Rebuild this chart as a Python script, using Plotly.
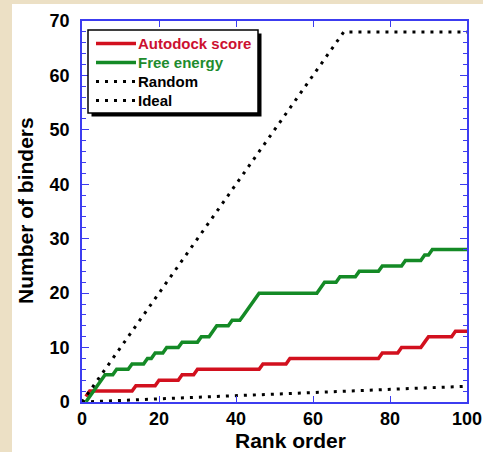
import plotly.graph_objects as go

# ---- data ----
rank = list(range(1, 101))
autodock_score = (
    [1] + [2] * 12 + [3] * 6 + [4] * 6 + [5] * 4 + [6] * 17 + [7] * 7
    + [8] * 24 + [9] * 5 + [10] * 6 + [11] + [12] * 7 + [13] * 4
)
free_energy = (
    [0, 1, 2, 3, 4, 5, 5, 5, 6, 6, 6, 6, 7, 7, 7, 7, 8, 8, 9, 9,
     9, 10, 10, 10, 10, 11, 11, 11, 11, 11, 12, 12, 12, 13, 14, 14, 14, 14, 15, 15,
     15, 16, 17, 18, 19] + [20] * 16 + [21] + [22] * 4 + [23] * 5 + [24] * 6
    + [25] * 6 + [26] * 5 + [27] * 2 + [28] * 10
)
random_x = [0, 100]
random_y = [0, 2.9]
ideal_x = [0, 68, 100]
ideal_y = [0, 68, 68]

x_ticks = [0, 20, 40, 60, 80, 100]
y_ticks = [0, 10, 20, 30, 40, 50, 60, 70]

series_names = ["Autodock score", "Free energy", "Random", "Ideal"]
line_colors = ["#d2101e", "#148a26", "black", "black"]
text_colors = ["#cc1030", "#1e8c2e", "black", "black"]

AXIS_BLUE = "#3c3cf0"
FONT = "Liberation Sans, Arial, Helvetica, sans-serif"
DOT = "3px,6px"

W, H = 483, 452
ML, MR, MT, MB = 82, 16, 21, 50
PW, PH = W - ML - MR, H - MT - MB


def px(X):
    return (X - ML) / PW


def py(Y):
    return (H - MB - Y) / PH


fig = go.Figure()
fig.add_trace(go.Scatter(x=rank, y=autodock_score, mode="lines", name=series_names[0],
                         line=dict(color=line_colors[0], width=3.5)))
fig.add_trace(go.Scatter(x=rank, y=free_energy, mode="lines", name=series_names[1],
                         line=dict(color=line_colors[1], width=3.5)))
fig.add_trace(go.Scatter(x=random_x, y=random_y, mode="lines", name=series_names[2],
                         line=dict(color=line_colors[2], width=3, dash=DOT)))
fig.add_trace(go.Scatter(x=ideal_x, y=ideal_y, mode="lines", name=series_names[3],
                         line=dict(color=line_colors[3], width=3, dash=DOT)))

axis_common = dict(
    showgrid=False, zeroline=False, showline=True, linecolor=AXIS_BLUE,
    linewidth=1.5, mirror="ticks", ticks="inside", tickcolor=AXIS_BLUE,
    tickwidth=1.2, automargin=False,
    tickfont=dict(family=FONT, size=18, color="black", weight="bold"),
)

fig.update_xaxes(range=[0, 100], tickvals=x_ticks, ticklen=6, **axis_common)
fig.update_yaxes(range=[0, 70], tickvals=y_ticks, ticklen=7,
                 minor=dict(dtick=2, ticks="inside", ticklen=4,
                            tickcolor=AXIS_BLUE, tickwidth=1.2),
                 ticklabelstandoff=7, **axis_common)

# ---- legend box (drawn as shapes + text) ----
shapes = [
    dict(type="rect", xref="paper", yref="paper", layer="below",
         x0=px(12), x1=px(W + 20), y0=py(H + 20), y1=py(4),
         fillcolor="white", line=dict(width=0)),
    dict(type="rect", xref="paper", yref="paper", layer="above",
         x0=px(91.5), x1=px(261.5), y0=py(116.5), y1=py(33.5),
         fillcolor="black", line=dict(width=0)),
    dict(type="rect", xref="paper", yref="paper", layer="above",
         x0=px(88), x1=px(258), y0=py(113), y1=py(30),
         fillcolor="white", line=dict(color="black", width=1.5)),
]
annotations = []
row_y = [43.5, 62.5, 81.5, 100.5]
for i, name in enumerate(series_names):
    solid = i < 2
    shapes.append(dict(
        type="line", xref="paper", yref="paper", layer="above",
        x0=px(96), x1=px(136), y0=py(row_y[i]), y1=py(row_y[i]),
        line=dict(color=line_colors[i], width=3.5 if solid else 3,
                  dash="solid" if solid else DOT)))
    annotations.append(dict(
        text=name, xref="paper", yref="paper", x=px(136), y=py(row_y[i]),
        xanchor="left", yanchor="middle", showarrow=False,
        font=dict(family=FONT, size=15, color=text_colors[i], weight="bold")))

annotations += [
    dict(text="Rank order", xref="paper", yref="paper", x=px(290), y=py(440),
         xanchor="center", yanchor="middle", showarrow=False,
         font=dict(family=FONT, size=21, color="black", weight="bold")),
    dict(text="Number of binders", xref="paper", yref="paper", x=px(25),
         y=py(211), xanchor="center", yanchor="middle", textangle=-90,
         showarrow=False,
         font=dict(family=FONT, size=21, color="black", weight="bold")),
]

fig.update_layout(
    width=W, height=H,
    margin=dict(l=ML, r=MR, t=MT, b=MB),
    paper_bgcolor="#ece0c5", plot_bgcolor="white",
    showlegend=False,
    shapes=shapes,
    annotations=annotations,
)

fig.write_html("out.html")
